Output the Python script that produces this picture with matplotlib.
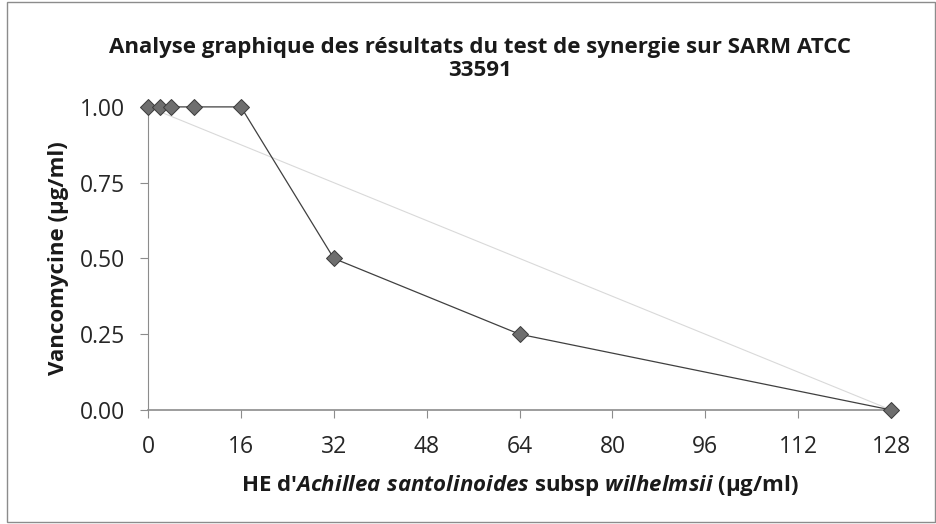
import matplotlib.pyplot as plt
from matplotlib.patches import Rectangle

plt.rcParams['font.family'] = ['Open Sans', 'DejaVu Sans']
plt.rcParams['mathtext.fontset'] = 'custom'
plt.rcParams['mathtext.it'] = 'Open Sans:bold:italic'
plt.rcParams['mathtext.rm'] = 'Open Sans:bold'
plt.rcParams['mathtext.bf'] = 'Open Sans:bold'

# Concentrations (µg/ml)
he_conc = [0, 2, 4, 8, 16, 32, 64, 128]
vanco_conc = [1.0, 1.0, 1.0, 1.0, 1.0, 0.5, 0.25, 0.0]

# Additivity line between the two MICs
line_x = [0, 128]
line_y = [1.0, 0.0]

x_ticks = [0, 16, 32, 48, 64, 80, 96, 112, 128]
y_ticks = [0.0, 0.25, 0.5, 0.75, 1.0]

fig = plt.figure(figsize=(9.37, 5.24), dpi=100)
ax = fig.add_axes([0.158, 0.2176, 0.793, 0.5784])

ax.plot(line_x, line_y, color='#d9d9d9', linewidth=0.8, zorder=1)
ax.plot(he_conc, vanco_conc, color='#404040', linewidth=0.9, marker='D',
        markersize=8.5, markerfacecolor='#6e6e6e', markeredgecolor='#3a3a3a',
        markeredgewidth=0.7, clip_on=False, zorder=3)

ax.set_xlim(0, 128)
ax.set_ylim(0, 1.0)
ax.set_xticks(x_ticks)
ax.set_yticks(y_ticks)
ax.set_yticklabels([f'{v:.2f}' for v in y_ticks])

for side in ['top', 'right']:
    ax.spines[side].set_visible(False)
ax.spines['left'].set_color('#8c8c8c')
ax.spines['bottom'].set_color('#8c8c8c')
ax.spines['bottom'].set_linewidth(1.2)
ax.tick_params(axis='x', direction='out', length=6, color='#8c8c8c',
               labelsize=16.5, pad=12, labelcolor='#262626')
ax.tick_params(axis='y', direction='out', length=6, color='#8c8c8c',
               labelsize=16.5, pad=10.5, labelcolor='#262626')

ax.set_xlabel("HE d'$\\it{Achillea\\ santolinoides}$ subsp $\\it{wilhelmsii}$ (µg/ml)",
              fontsize=16, fontweight='bold', labelpad=10, color='#1a1a1a')
ax.set_ylabel('Vancomycine (µg/ml)', fontsize=16, fontweight='bold', labelpad=8,
              color='#1a1a1a')

fig.text(0.512, 0.845,
         'Analyse graphique des résultats du test de synergie sur SARM ATCC\n33591',
         ha='center', va='bottom', fontsize=16, fontweight='bold',
         linespacing=1.15, color='#1a1a1a')

# outer chart frame
fig.patches.append(Rectangle((0.008, 0.004), 0.99, 0.992, transform=fig.transFigure,
                             fill=False, edgecolor='#8c8c8c', linewidth=1.0))

fig.savefig('out.png', dpi=100)
